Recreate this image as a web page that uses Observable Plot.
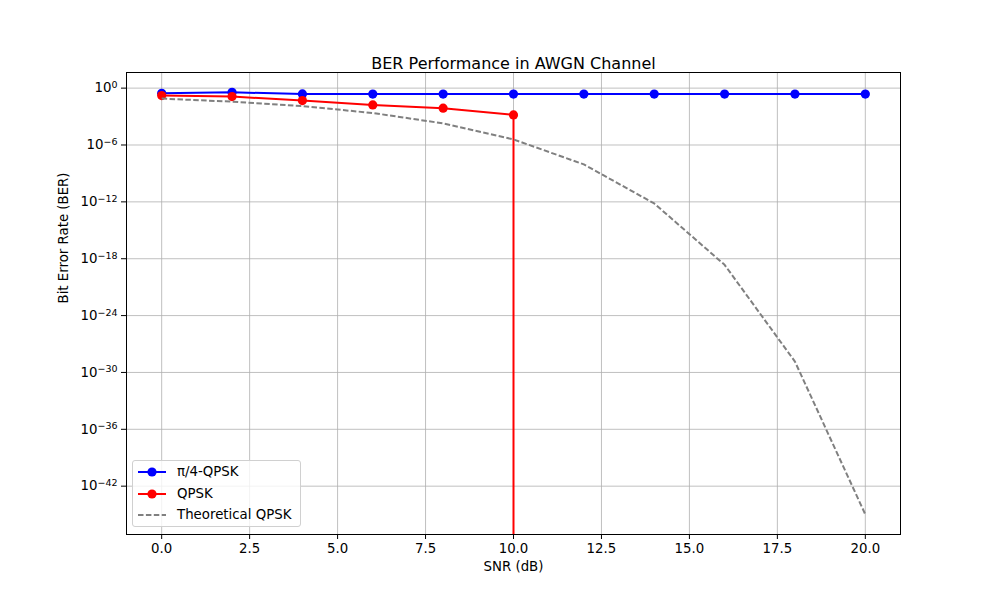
<!DOCTYPE html>
<html><head><meta charset="utf-8">
<script src="https://cdn.jsdelivr.net/npm/d3@7"></script>
<script src="https://cdn.jsdelivr.net/npm/@observablehq/plot@0.6"></script>
<style>
body{margin:0;background:#fff;}
#wrap{position:relative;width:1000px;height:600px;font-family:"DejaVu Sans",sans-serif;}
.legend{position:absolute;left:132px;top:460px;width:169px;height:67px;border:1px solid #d0d0d0;border-radius:3px;background:rgba(255,255,255,0.8);box-sizing:border-box;font-size:13.33px;color:#000;}
.row{position:absolute;left:0;height:20px;display:flex;align-items:center;}
.row svg{position:absolute;left:4px;top:0;}
.row span{position:absolute;left:44px;white-space:nowrap;line-height:20px;top:0;}
</style></head>
<body><div id="wrap"></div>
<script>
const snr = [0, 2, 4, 6, 8, 10, 12, 14, 16, 18, 20];
const berPi4 = [0.29, 0.36, 0.245, 0.235, 0.235, 0.235, 0.235, 0.235, 0.235, 0.235, 0.235];
const berQpsk = [0.165, 0.13, 0.049, 0.017, 0.0077, 0.0015, 0, 0, 0, 0, 0];
const berTheory = [7.865e-2, 3.751e-2, 1.250e-2, 2.388e-3, 1.909e-4, 3.872e-6, 9.006e-9, 6.810e-13, 2.267e-19, 1.396e-29, 1.044e-45];
const seriesNames = ["π/4-QPSK", "QPSK", "Theoretical QPSK"];
const seriesColors = ["blue", "red", "gray"];
const xTicks = [0, 2.5, 5, 7.5, 10, 12.5, 15, 17.5, 20];
const yTickExps = [0, -6, -12, -18, -24, -30, -36, -42];
const xDomain = [-1, 21];
const yDomainExps = [-47.1, 1.65];
const titleText = "BER Performance in AWGN Channel";
const xLabel = "SNR (dB)";
const yLabel = "Bit Error Rate (BER)";

const yTicks = yTickExps.map(e => Math.pow(10, e));
const yDomain = yDomainExps.map(e => Math.pow(10, e));
const rows = (arr) => snr.map((s, i) => ({snr: s, ber: arr[i]})).filter(d => d.ber > 0);
const pi4 = rows(berPi4), qpsk = rows(berQpsk), theory = rows(berTheory);
const qpskLast = qpsk[qpsk.length - 1];
const gridStyle = {stroke: "#b0b0b0", strokeOpacity: 1, strokeWidth: 0.8};
const DASH = "5.5 2.4";

const svg = Plot.plot({
  width: 1000, height: 600,
  marginLeft: 126, marginRight: 100, marginTop: 72, marginBottom: 66,
  style: {fontFamily: "DejaVu Sans", fontSize: "13.33px", background: "white", color: "black"},
  x: {domain: xDomain},
  y: {type: "log", domain: yDomain},
  marks: [
    Plot.gridX(xTicks, gridStyle),
    Plot.gridY(yTicks, gridStyle),
    Plot.axisX(xTicks, {tickFormat: d3.format(".1f"), tickSize: 5, tickPadding: 4, label: null}),
    Plot.axisY(yTicks, {tickFormat: d => String(Math.round(Math.log10(d))), tickSize: 5, tickPadding: 4, label: null}),
    Plot.line(pi4, {x: "snr", y: "ber", stroke: seriesColors[0], strokeWidth: 2}),
    Plot.dot(pi4, {x: "snr", y: "ber", fill: seriesColors[0], r: 4.6}),
    Plot.line(qpsk, {x: "snr", y: "ber", stroke: seriesColors[1], strokeWidth: 2}),
    Plot.ruleX([qpskLast], {x: "snr", y1: "ber", y2: () => yDomain[0], stroke: seriesColors[1], strokeWidth: 2}),
    Plot.dot(qpsk, {x: "snr", y: "ber", fill: seriesColors[1], r: 4.6}),
    Plot.line(theory, {x: "snr", y: "ber", stroke: seriesColors[2], strokeWidth: 2, strokeDasharray: DASH, strokeLinecap: "butt"}),
    Plot.frame({stroke: "black", strokeWidth: 1}),
    Plot.text([titleText], {frameAnchor: "top", dy: -15, fontSize: 16}),
    Plot.text([xLabel], {frameAnchor: "bottom", dy: 36}),
    Plot.text([yLabel], {frameAnchor: "left", dx: -63, rotate: -90})
  ]
});

// superscript exponents on y tick labels
d3.select(svg).selectAll('g[aria-label="y-axis tick label"] text').each(function() {
  const t = d3.select(this);
  const e = t.text();
  t.text("");
  t.append("tspan").text("10");
  t.append("tspan").attr("dy", "-0.45em").attr("font-size", "9.5px").text(e.replace("-", "\u2212"));
});

const wrap = document.getElementById("wrap");
wrap.appendChild(svg);

// legend
const legend = document.createElement("div");
legend.className = "legend";
const rowTops = [1, 22.5, 43.5];
seriesNames.forEach((name, i) => {
  const row = document.createElement("div");
  row.className = "row";
  row.style.top = rowTops[i] + "px";
  const dash = i === 2 ? ` stroke-dasharray="${DASH}"` : '';
  const marker = i < 2 ? `<circle cx="15" cy="10" r="4.6" fill="${seriesColors[i]}"/>` : '';
  row.innerHTML = `<svg width="32" height="20"><line x1="1" x2="29" y1="10" y2="10" stroke="${seriesColors[i]}" stroke-width="2"${dash}/>${marker}</svg><span>${name}</span>`;
  legend.appendChild(row);
});
wrap.appendChild(legend);
</script>
</body></html>
